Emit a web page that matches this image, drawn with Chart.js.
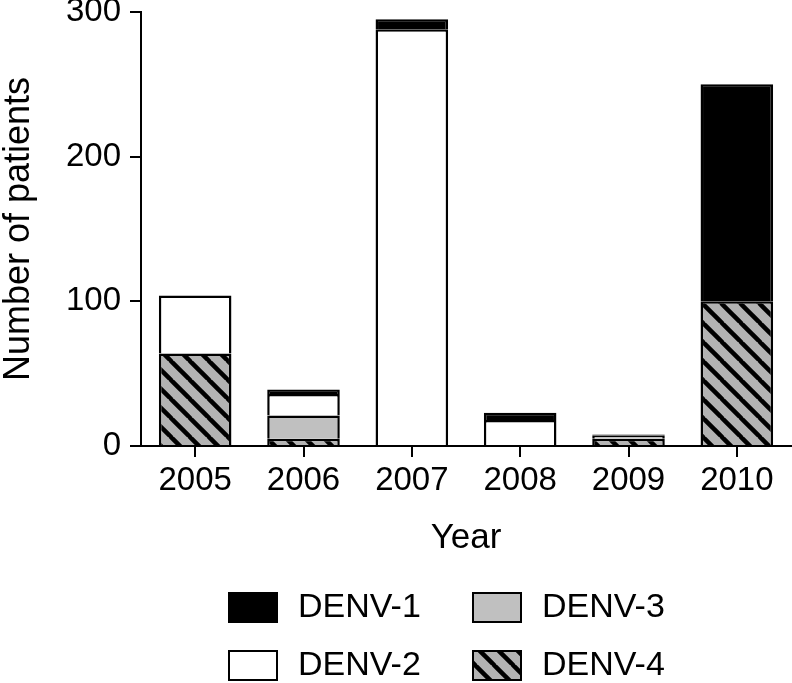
<!DOCTYPE html>
<html>
<head>
<meta charset="utf-8">
<script src="https://cdn.jsdelivr.net/npm/chart.js@4"></script>
<style>
  body { margin: 0; background: #fff; }
  #chart { display: block; }
</style>
</head>
<body>
<canvas id="chart" width="792" height="683"></canvas>
<script>
// values (patients per year, by serotype)
const years = ['2005', '2006', '2007', '2008', '2009', '2010'];
const denv1 = [0, 3, 7, 5, 1, 150];
const denv2 = [40, 15, 288, 18, 0, 0];
const denv3 = [0, 16, 0, 0, 2, 0];
const denv4 = [64, 5, 0, 0, 5, 100];
const yTicks = [0, 100, 200, 300];

const FONT = "'Liberation Sans', Arial, Helvetica, sans-serif";

// grey background with black "\" stripes
function makeHatch() {
  const s = 19;
  const c = document.createElement('canvas');
  c.width = s; c.height = s;
  const g = c.getContext('2d');
  g.fillStyle = '#b3b3b3';
  g.fillRect(0, 0, s, s);
  g.strokeStyle = '#000';
  g.lineWidth = 4.5;
  for (const k of [-s, 0, s]) {
    g.beginPath();
    g.moveTo(k - 1, -1);
    g.lineTo(k + s + 1, s + 1);
    g.stroke();
  }
  return g.createPattern(c, 'repeat');
}
const hatch = makeHatch();

const series = [
  { label: 'DENV-4', data: denv4, backgroundColor: hatch },
  { label: 'DENV-3', data: denv3, backgroundColor: '#c0c0c0' },
  { label: 'DENV-2', data: denv2, backgroundColor: '#ffffff' },
  { label: 'DENV-1', data: denv1, backgroundColor: '#000000' }
];

// legend drawn in two columns: DENV-1/DENV-2, then DENV-3/DENV-4
const legendPlugin = {
  id: 'colLegend',
  afterDraw(chart) {
    const ctx = chart.ctx;
    const cols = [228, 472];
    const rows = [592, 650];
    const order = ['DENV-1', 'DENV-2', 'DENV-3', 'DENV-4'];
    ctx.save();
    ctx.font = '34px ' + FONT;
    ctx.textBaseline = 'middle';
    order.forEach((name, i) => {
      const ds = chart.data.datasets.find(d => d.label === name);
      const x = cols[Math.floor(i / 2)];
      const y = rows[i % 2];
      ctx.fillStyle = ds.backgroundColor;
      ctx.fillRect(x, y, 50, 31);
      ctx.strokeStyle = '#000';
      ctx.lineWidth = 2;
      ctx.strokeRect(x + 1, y + 1, 48, 29);
      ctx.fillStyle = '#000';
      ctx.fillText(name, x + 70, y + 16);
    });
    ctx.restore();
  }
};

new Chart(document.getElementById('chart'), {
  type: 'bar',
  data: {
    labels: years,
    datasets: series.map(s => ({
      label: s.label,
      // empty segments are left out so no zero-height outline is drawn
      data: s.data.map(v => (v === 0 ? null : v)),
      backgroundColor: s.backgroundColor,
      borderColor: '#000',
      borderWidth: 2.5,
      borderSkipped: 'start',
      barPercentage: 0.67,
      categoryPercentage: 1
    }))
  },
  options: {
    responsive: false,
    animation: false,
    devicePixelRatio: 1,
    layout: { padding: { top: 12, right: 1, bottom: 124, left: 0 } },
    plugins: {
      legend: { display: false },
      tooltip: { enabled: false }
    },
    scales: {
      x: {
        stacked: true,
        grid: { display: true, drawOnChartArea: false, offset: false, drawTicks: true, tickLength: 11, color: '#000', lineWidth: 2 },
        border: { display: true, color: '#000', width: 2 },
        ticks: { color: '#000', font: { family: FONT, size: 33 }, padding: 4, maxRotation: 0 },
        title: { display: true, text: 'Year', color: '#000', font: { family: FONT, size: 35 }, padding: 0 },
        afterFit: scale => { scale.height = 113; }
      },
      y: {
        stacked: true,
        min: 0,
        max: 300,
        afterBuildTicks: scale => { scale.ticks = yTicks.map(v => ({ value: v })); },
        grid: { display: true, drawOnChartArea: false, drawTicks: true, tickLength: 11, color: '#000', lineWidth: 2 },
        border: { display: true, color: '#000', width: 2 },
        ticks: { color: '#000', font: { family: FONT, size: 33 }, padding: 9 },
        title: { display: true, text: 'Number of patients', color: '#000', font: { family: FONT, size: 36, lineHeight: 1 }, padding: { top: 1, bottom: 0 } },
        afterFit: scale => { scale.width = 141; scale.paddingTop = 0; scale.paddingBottom = 0; }
      }
    }
  },
  plugins: [legendPlugin]
});
</script>
</body>
</html>
